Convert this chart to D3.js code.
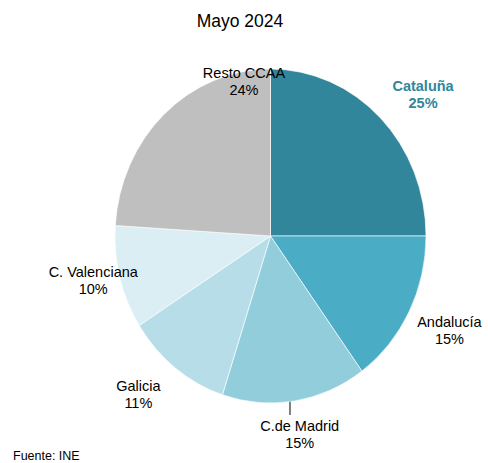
<!DOCTYPE html>
<html>
<head>
<meta charset="utf-8">
<script src="https://cdn.jsdelivr.net/npm/d3@7"></script>
<style>
  body { margin: 0; background: #fff; }
  svg { display: block; font-family: "Liberation Sans", Arial, sans-serif; }
</style>
</head>
<body>
<div id="chart"></div>
<script>
// --datos--
var regiones = ["Cataluña", "Andalucía", "C.de Madrid", "Galicia", "C. Valenciana", "Resto CCAA"];
var porcentajes = [25, 15, 15, 11, 10, 24];
var colores = ["#31869b", "#4bacc6", "#92cddc", "#b7dee8", "#daeef3", "#bfbfbf"];

// posicion de etiquetas: [angulo en grados, factor de radio]
var posEtiquetas = [[49, 1.30], [116, 1.28], [171, 1.20], [222, 1.27], [257, 1.17], [349.6, 0.945]];

var width = 488, height = 463;
var cx = 270.5, cy = 236;
var rx = 155.5, ry = 167;

var svg = d3.select("#chart").append("svg")
    .attr("width", width)
    .attr("height", height);

// titulo
svg.append("text")
    .attr("x", 240)
    .attr("y", 27)
    .attr("text-anchor", "middle")
    .attr("font-size", 17.5)
    .attr("fill", "#000")
    .text("Mayo 2024");

var pie = d3.pie().sort(null).value(function (d) { return d; });
var arcos = pie(porcentajes);
var arc = d3.arc().innerRadius(0).outerRadius(rx);

// tarta (ligeramente ovalada como en el original)
var gPie = svg.append("g")
    .attr("transform", "translate(" + cx + "," + cy + ") scale(1," + (ry / rx) + ")");

gPie.selectAll("path")
    .data(arcos)
    .join("path")
    .attr("d", arc)
    .attr("fill", function (d, i) { return colores[i]; })
    .attr("stroke", "#fff")
    .attr("stroke-width", 0.6);

// punto en la elipse
function punto(anguloGrados, factor) {
    var a = anguloGrados * Math.PI / 180;
    return [cx + Math.sin(a) * rx * factor, cy - Math.cos(a) * ry * factor];
}

// linea guia de C.de Madrid
var p0 = punto(172.8, 1.0), p1 = punto(172.8, 1.08);
svg.append("line")
    .attr("x1", p0[0]).attr("y1", p0[1])
    .attr("x2", p0[0]).attr("y2", p1[1])
    .attr("stroke", "#000")
    .attr("stroke-width", 1);

// etiquetas
var gLab = svg.append("g");
arcos.forEach(function (d, i) {
    var p = punto(posEtiquetas[i][0], posEtiquetas[i][1]);
    var destacado = i === 0;
    var t = gLab.append("text")
        .attr("text-anchor", "middle")
        .attr("font-size", 14.5)
        .attr("font-weight", destacado ? "bold" : "normal")
        .attr("fill", destacado ? colores[0] : "#000");
    t.append("tspan")
        .attr("x", p[0]).attr("y", p[1] - 3)
        .text(regiones[i]);
    t.append("tspan")
        .attr("x", p[0]).attr("y", p[1] + 14)
        .text(d3.format(".0f")(porcentajes[i]) + "%");
});

// fuente
svg.append("text")
    .attr("x", 13)
    .attr("y", 460)
    .attr("font-size", 12.5)
    .attr("fill", "#000")
    .text("Fuente: INE");
</script>
</body>
</html>
